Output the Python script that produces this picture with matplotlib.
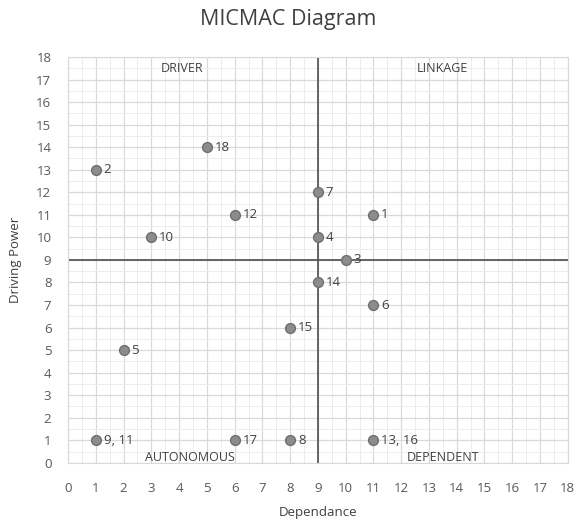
import numpy as np
import matplotlib
matplotlib.use('Agg')
from matplotlib import pyplot as plt

# MICMAC data
labels = ['1', '2', '3', '4', '5', '6', '7', '8', '9, 11', '10', '12',
          '13, 16', '14', '15', '17', '18']
dependance = [11, 1, 10, 9, 2, 11, 9, 8, 1, 3, 6, 11, 9, 8, 6, 5]
driving = [11, 13, 9, 10, 5, 7, 12, 1, 1, 10, 11, 1, 8, 6, 1, 14]
quadrants = ['DRIVER', 'LINKAGE', 'AUTONOMOUS', 'DEPENDENT']

plt.rcParams['font.family'] = ['Open Sans', 'DejaVu Sans']

fig = plt.figure(figsize=(5.77, 5.23), dpi=100)
ax = fig.add_axes([0.118, 0.115, 0.866, 0.776])

ax.set_xlim(0, 18)
ax.set_ylim(0, 18)
ax.set_xticks(range(19))
ax.set_yticks(range(19))
ax.set_xticks(np.arange(0.5, 18, 1), minor=True)
ax.set_yticks(np.arange(0.5, 18, 1), minor=True)
ax.grid(which='major', color='#d9d9d9', lw=0.9)
ax.grid(which='minor', color='#ececec', lw=0.7)
ax.set_axisbelow(True)
ax.tick_params(which='both', length=0, labelsize=9.5, labelcolor='#595959')
ax.tick_params(axis='x', pad=14)
ax.tick_params(axis='y', pad=12)
for s in ax.spines.values():
    s.set_color('#d9d9d9')

# quadrant lines
ax.axvline(9, color='#595959', lw=1.3)
ax.axhline(9, color='#595959', lw=1.3)

ax.scatter(dependance, driving, s=50, c='#8c8c8c', edgecolors='#6f6f6f',
           linewidths=1, zorder=3)
for x, y, t in zip(dependance, driving, labels):
    ax.text(x + 0.28, y, t, fontsize=9.5, color='#404040', va='center', ha='left', zorder=4)

ax.text(4.1, 17.5, quadrants[0], fontsize=9, color='#404040', ha='center', va='center')
ax.text(13.5, 17.5, quadrants[1], fontsize=9, color='#404040', ha='center', va='center')
ax.text(4.4, 0.25, quadrants[2], fontsize=9, color='#404040', ha='center', va='center')
ax.text(13.5, 0.25, quadrants[3], fontsize=9, color='#404040', ha='center', va='center')

ax.set_xlabel('Dependance', fontsize=9.5, color='#404040', labelpad=8)
ax.set_ylabel('Driving Power', fontsize=9.5, color='#404040', labelpad=10)
fig.text(0.5, 0.962, 'MICMAC Diagram', fontsize=15.5, color='#404040', ha='center', va='center')

plt.savefig('out.png', dpi=100)
